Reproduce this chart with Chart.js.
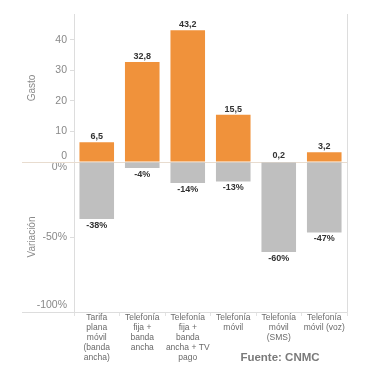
<!DOCTYPE html>
<html>
<head>
<meta charset="utf-8">
<script src="https://cdn.jsdelivr.net/npm/chart.js@4.4.1/dist/chart.umd.min.js"></script>
<style>
    html, body { margin: 0; padding: 0; background: #fff; }
</style>
</head>
<body>
<canvas id="chartContainer" width="372" height="381"></canvas>
<script>
// data
const categories = [
    ['Tarifa', 'plana', 'móvil', '(banda', 'ancha)'],
    ['Telefonía', 'fija +', 'banda', 'ancha'],
    ['Telefonía', 'fija +', 'banda', 'ancha + TV', 'pago'],
    ['Telefonía', 'móvil'],
    ['Telefonía', 'móvil', '(SMS)'],
    ['Telefonía', 'móvil (voz)']
];
const gasto = [6.5, 32.8, 43.2, 15.5, 0.2, 3.2];
const variacion = [-38, -4, -14, -13, -60, -47];
const gastoTicks = [0, 10, 20, 30, 40];
const variacionTicks = [0, -50, -100];
const sourceText = 'Fuente: CNMC';

Chart.defaults.font.family = '"Liberation Sans", Arial, sans-serif';

// move the tick label sitting on a panel edge a bit, like the original
function nudge(scale, value, dy) {
    const items = scale.getLabelItems();
    scale.ticks.forEach(function(t, i) {
        if (t.value === value && items[i]) {
            items[i].options.translation[1] = scale.getPixelForValue(value) + dy;
        }
    });
}

const extras = {
    id: 'extras',
    beforeDraw(chart) {
        nudge(chart.scales.y, 0, -6);
        nudge(chart.scales.y2, 0, 5);
        nudge(chart.scales.y2, -100, -7);
    },
    beforeDatasetsDraw(chart) {
        const ctx = chart.ctx;
        const area = chart.chartArea;
        const zero = chart.scales.y.getPixelForValue(0);
        ctx.save();
        ctx.lineWidth = 1;
        ctx.strokeStyle = '#e8dccf';
        ctx.beginPath();
        ctx.moveTo(22, zero + 0.5);
        ctx.lineTo(area.right, zero + 0.5);
        ctx.stroke();
        ctx.strokeStyle = '#dddddd';
        ctx.beginPath();
        ctx.moveTo(22, area.bottom + 0.5);
        ctx.lineTo(area.right, area.bottom + 0.5);
        ctx.moveTo(area.right + 0.5, area.top);
        ctx.lineTo(area.right + 0.5, area.bottom);
        ctx.stroke();
        ctx.restore();
    },
    afterDatasetsDraw(chart) {
        const ctx = chart.ctx;
        ctx.save();
        ctx.font = 'bold 9px "Liberation Sans", Arial, sans-serif';
        ctx.fillStyle = '#333';
        ctx.textAlign = 'center';
        ctx.textBaseline = 'bottom';
        chart.getDatasetMeta(0).data.forEach(function(bar, i) {
            ctx.fillText(String(gasto[i]).replace('.', ','), bar.x, bar.y - 1);
        });
        ctx.textBaseline = 'top';
        chart.getDatasetMeta(1).data.forEach(function(bar, i) {
            ctx.fillText(variacion[i] + '%', bar.x, bar.y + 2);
        });
        ctx.font = 'bold 11.5px "Liberation Sans", Arial, sans-serif';
        ctx.fillStyle = '#7a7a7a';
        ctx.textBaseline = 'middle';
        ctx.fillText(sourceText, 280, 358);
        ctx.restore();
    }
};

var ctx = document.getElementById('chartContainer').getContext('2d');

window.myBarChart = new Chart(ctx, {
    type: 'bar',
    data: {
        labels: categories,
        datasets: [{
            label: 'Gasto',
            data: gasto,
            yAxisID: 'y',
            backgroundColor: '#f0923b',
            grouped: false,
            barPercentage: 0.76,
            categoryPercentage: 1
        }, {
            label: 'Variación',
            data: variacion,
            yAxisID: 'y2',
            backgroundColor: '#bfbfbf',
            grouped: false,
            barPercentage: 0.76,
            categoryPercentage: 1
        }]
    },
    options: {
        responsive: false,
        animation: false,
        layout: {
            padding: { top: 14, right: 25, left: 0, bottom: 0 }
        },
        plugins: {
            legend: { display: false },
            tooltip: { enabled: false }
        },
        scales: {
            x: {
                grid: { drawOnChartArea: false, offset: true, tickLength: 4, color: '#e2e2e2' },
                border: { display: false },
                ticks: {
                    color: '#6a6a6a',
                    font: { size: 8.5, lineHeight: 1.18 },
                    padding: -3,
                    maxRotation: 0,
                    autoSkip: false
                },
                afterFit: function(s) { s.height = 69; }
            },
            y: {
                position: 'left',
                stack: 'panel',
                stackWeight: 148,
                weight: 1,
                min: 0,
                max: 48.5,
                afterBuildTicks: function(s) { s.ticks = gastoTicks.map(v => ({ value: v })); },
                ticks: { color: '#888', font: { size: 10.5 }, padding: 3 },
                grid: { drawOnChartArea: false, tickLength: 4, color: '#dddddd' },
                border: { color: '#dddddd' },
                title: { display: true, text: 'Gasto', color: '#8a8a8a', font: { size: 10 }, padding: { top: 26, bottom: 0 } },
                afterFit: function(s) { s.width = 74; }
            },
            y2: {
                position: 'left',
                stack: 'panel',
                stackWeight: 150,
                weight: 0,
                min: -100,
                max: 0,
                afterBuildTicks: function(s) { s.ticks = variacionTicks.map(v => ({ value: v })); },
                ticks: {
                    color: '#888',
                    font: { size: 10.5 },
                    padding: 3,
                    callback: function(value) { return value + '%'; }
                },
                grid: { drawOnChartArea: false, tickLength: 4, color: '#dddddd' },
                border: { color: '#dddddd' },
                title: { display: true, text: 'Variación', color: '#8a8a8a', font: { size: 10 }, padding: { top: 26, bottom: 0 } },
                afterFit: function(s) { s.width = 74; }
            }
        }
    },
    plugins: [extras]
});
</script>
</body>
</html>
